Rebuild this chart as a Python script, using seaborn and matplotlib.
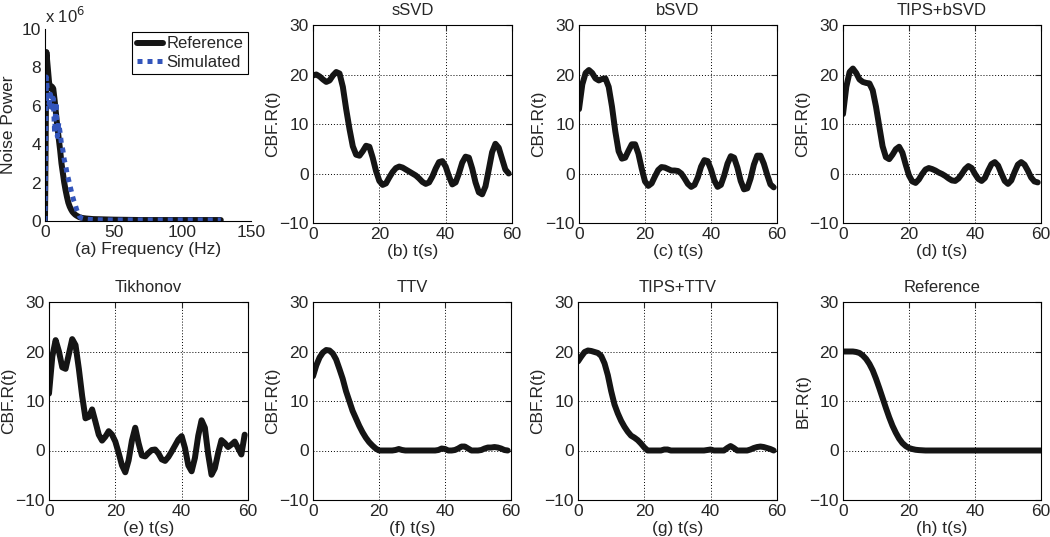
import numpy as np
import matplotlib
matplotlib.use("Agg")
import matplotlib.pyplot as plt
import seaborn as sns

# ---- data ----
freq = [0, 1, 2, 3, 4, 5, 6, 7, 8, 9, 10, 11, 12, 13, 14, 15, 16, 17, 18, 19, 20,
        21, 22, 23, 24, 25, 26, 27, 28, 29, 30, 35, 40, 50, 60, 70, 80, 90, 100, 110, 120, 128]
# noise power in units of 1e6
noise_reference = [0.0, 8.8, 8.0, 7.2, 6.9, 7.0, 6.9, 6.3, 5.6, 4.9, 4.3, 3.7, 3.0, 2.5, 2.0,
                   1.6, 1.25, 0.95, 0.75, 0.6, 0.48, 0.4, 0.33, 0.28, 0.24, 0.2, 0.18, 0.16,
                   0.15, 0.14, 0.13, 0.1, 0.09, 0.07, 0.06, 0.05, 0.05, 0.05, 0.05, 0.05, 0.05, 0.05]
noise_simulated = [0.0, 7.5, 6.5, 6.1, 6.6, 5.7, 6.4, 4.6, 6.2, 4.4, 5.1, 4.6, 4.0, 3.7, 3.2,
                   2.9, 2.5, 2.2, 1.9, 1.6, 1.3, 1.05, 0.85, 0.6, 0.4, 0.25, 0.18, 0.14,
                   0.12, 0.1, 0.09, 0.07, 0.06, 0.05, 0.05, 0.05, 0.05, 0.05, 0.05, 0.05, 0.05, 0.05]

t = np.arange(60)        # seconds, 1 s sampling
t_ref = np.arange(61)

ssvd = [19.8, 20.0, 19.6, 19.0, 18.5, 18.8, 19.8, 20.5, 20.2, 17.5,
        13.0, 9.0, 5.5, 3.8, 3.6, 4.5, 5.6, 5.4, 3.2, 0.5,
        -1.5, -2.3, -2.0, -0.8, 0.3, 1.1, 1.4, 1.2, 0.8, 0.4,
        0.0, -0.4, -1.0, -1.7, -2.1, -1.8, -0.6, 1.0, 2.3, 2.5,
        1.4, -0.6, -2.2, -1.8, 0.0, 2.2, 3.4, 3.2, 1.0, -1.8,
        -3.8, -4.2, -2.6, 0.8, 4.3, 6.0, 5.2, 3.0, 0.8, 0.0]

bsvd = [13.0, 18.0, 20.3, 20.9, 20.3, 19.2, 18.8, 19.1, 19.2, 17.5,
        13.5, 8.5, 4.5, 3.0, 3.2, 4.6, 5.9, 5.9, 4.0, 1.0,
        -1.6, -2.5, -2.0, -0.6, 0.7, 1.3, 1.2, 0.9, 0.6, 0.6,
        0.5, 0.0, -1.0, -2.1, -2.7, -2.3, -0.8, 1.4, 2.7, 2.5,
        0.8, -1.4, -2.7, -2.3, -0.4, 2.0, 3.5, 3.2, 1.2, -1.5,
        -3.2, -3.0, -1.0, 1.8, 3.6, 3.6, 2.0, -0.2, -2.2, -2.8]

tips_bsvd = [12.0, 17.5, 20.5, 21.2, 20.3, 19.0, 18.5, 18.3, 18.2, 16.8,
             13.5, 9.5, 5.5, 3.3, 2.9, 3.8, 4.9, 5.4, 4.2, 1.8,
             -0.4, -1.6, -1.9, -1.2, -0.1, 0.8, 1.1, 0.9, 0.6, 0.2,
             -0.1, -0.5, -1.0, -1.4, -1.5, -1.0, -0.1, 0.9, 1.5, 1.1,
             -0.1, -1.1, -1.5, -0.9, 0.6, 1.9, 2.3, 1.6, 0.0, -1.5,
             -2.1, -1.4, 0.3, 1.8, 2.3, 1.8, 0.6, -0.8, -1.6, -1.8]

tikhonov = [11.5, 19.0, 22.3, 20.0, 16.8, 16.5, 19.5, 22.5, 21.3, 16.5,
            11.0, 6.5, 6.8, 8.3, 5.8, 3.2, 2.0, 2.8, 3.9, 3.2,
            1.8, -0.5, -3.0, -4.4, -2.0, 2.0, 4.6, 1.5, -1.0, -1.2,
            -0.5, 0.1, 0.2, -0.6, -1.8, -2.1, -1.3, -0.2, 1.0, 2.2,
            2.9, 0.5, -3.0, -4.2, -1.5, 3.0, 6.1, 4.6, -0.8, -4.9,
            -3.6, -0.5, 2.1, 1.5, 0.7, 1.2, 1.8, 0.5, -0.8, 3.2]

ttv = [15.0, 17.2, 18.8, 19.8, 20.3, 20.2, 19.6, 18.4, 16.5, 14.5,
       12.0, 10.0, 8.0, 6.5, 5.0, 3.7, 2.6, 1.7, 1.0, 0.4,
       0.0, 0.0, 0.0, 0.0, 0.0, 0.1, 0.3, 0.1, 0.0, 0.0,
       0.0, 0.0, 0.0, 0.0, 0.0, 0.0, 0.0, 0.0, 0.1, 0.4,
       0.3, 0.0, 0.0, 0.1, 0.4, 0.8, 0.8, 0.4, 0.0, 0.0,
       0.0, 0.1, 0.4, 0.6, 0.6, 0.7, 0.6, 0.4, 0.1, 0.0]

tips_ttv = [18.0, 19.0, 19.9, 20.2, 20.1, 19.9, 19.7, 19.1, 17.6, 15.2,
            12.0, 9.3, 7.5, 6.0, 4.8, 3.8, 3.0, 2.6, 2.1, 1.4,
            0.6, 0.0, 0.0, 0.0, 0.0, 0.0, 0.2, 0.2, 0.0, 0.0,
            0.0, 0.0, 0.0, 0.0, 0.0, 0.0, 0.0, 0.0, 0.0, 0.1,
            0.2, 0.0, 0.0, 0.0, 0.0, 0.5, 0.9, 0.5, 0.0, 0.0,
            0.0, 0.0, 0.2, 0.5, 0.7, 0.8, 0.7, 0.5, 0.3, 0.0]

reference = [20.0, 20.0, 20.0, 20.0, 19.9, 19.7, 19.2, 18.5, 17.5, 16.2,
             14.5, 12.6, 10.6, 8.6, 6.7, 5.0, 3.6, 2.4, 1.5, 0.9,
             0.5, 0.3, 0.15, 0.08, 0.04] + [0.0] * 36

panels = [
    ("sSVD", "(b) t(s)", "CBF.R(t)", t, ssvd),
    ("bSVD", "(c) t(s)", "CBF.R(t)", t, bsvd),
    ("TIPS+bSVD", "(d) t(s)", "CBF.R(t)", t, tips_bsvd),
    ("Tikhonov", "(e) t(s)", "CBF.R(t)", t, tikhonov),
    ("TTV", "(f) t(s)", "CBF.R(t)", t, ttv),
    ("TIPS+TTV", "(g) t(s)", "CBF.R(t)", t, tips_ttv),
    ("Reference", "(h) t(s)", "BF.R(t)", t_ref, reference),
]

# ---- layout (pixel boxes: left, top, right, bottom) ----
W, H = 1050, 537
boxes = [(313, 25, 512, 223), (579, 25, 777, 223), (843, 25, 1041, 223),
         (49, 302, 248, 500), (313, 302, 511, 500), (578, 302, 777, 500), (843, 302, 1041, 500)]


def px_box(l, tp, r, b):
    return [l / W, 1 - b / H, (r - l) / W, (b - tp) / H]


sns.set_style("white")
plt.rcParams["font.family"] = ["Liberation Sans", "DejaVu Sans"]
plt.rcParams["axes.linewidth"] = 0.8

LINE = "#151515"
FS = 12.5

fig = plt.figure(figsize=(W / 100, H / 100), dpi=100)

# (a) noise power spectrum
ax = fig.add_axes(px_box(45, 29, 251, 221))
sns.lineplot(x=freq, y=noise_reference, ax=ax, color=LINE, linewidth=4.3,
             label="Reference", sort=False)
sns.lineplot(x=freq, y=noise_simulated, ax=ax, color="#3355bb", linewidth=3.6,
             linestyle=(0, (1, 1)), label="Simulated", sort=False)
ax.set_xlim(0, 150)
ax.set_ylim(0, 10)
ax.set_xticks([0, 50, 100, 150])
ax.set_yticks([0, 2, 4, 6, 8, 10])
ax.set_xlabel("(a) Frequency (Hz)", fontsize=FS, labelpad=1)
ax.set_ylabel("Noise Power", fontsize=FS)
ax.yaxis.set_label_coords(-0.14, 0.5)
ax.spines["top"].set_visible(False)
ax.spines["right"].set_visible(False)
for s in ("left", "bottom"):
    ax.spines[s].set_color("black")
ax.tick_params(direction="in", length=4, width=0.8, labelsize=FS, pad=3)
ax.text(0.0, 1.015, r"x 10$^6$", transform=ax.transAxes, ha="left", va="bottom", fontsize=12)
leg = ax.legend(loc="upper right", frameon=True, fancybox=False, edgecolor="black",
                framealpha=1, fontsize=12, handlelength=1.6, borderpad=0.25,
                labelspacing=0.2, handletextpad=0.2, borderaxespad=0.2)
leg.get_frame().set_linewidth(0.8)

# (b)-(h) residue functions
for (title, xlab, ylab, x, y), box in zip(panels, boxes):
    ax = fig.add_axes(px_box(*box))
    sns.lineplot(x=x, y=y, ax=ax, color=LINE, linewidth=4.3, sort=False)
    ax.set_xlim(0, 60)
    ax.set_ylim(-10, 30)
    ax.set_xticks([0, 20, 40, 60])
    ax.set_yticks([-10, 0, 10, 20, 30])
    ax.grid(True, linestyle=(0, (1, 2)), color="black", linewidth=0.7)
    ax.set_title(title, fontsize=12, pad=7)
    ax.set_xlabel(xlab, fontsize=FS, labelpad=1)
    ax.set_ylabel(ylab, fontsize=FS)
    ax.yaxis.set_label_coords(-0.165, 0.5)
    for s in ax.spines.values():
        s.set_visible(True)
        s.set_color("black")
    ax.tick_params(direction="in", length=4, width=0.8, labelsize=FS, pad=3,
                   top=True, right=True)

fig.savefig("out.png", dpi=100)
